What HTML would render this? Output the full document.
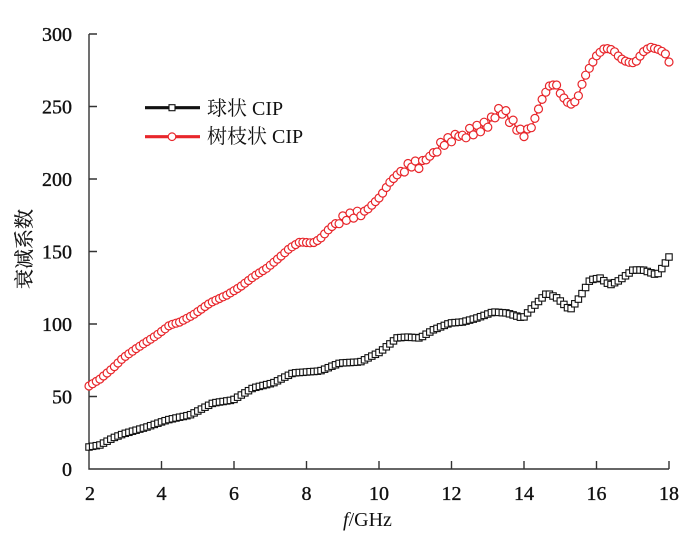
<!DOCTYPE html>
<html>
<head>
<meta charset="utf-8">
<style>
html,body{margin:0;padding:0;background:#fff;}
svg{display:block;}
text{font-family:"Liberation Serif","Noto Serif CJK SC",serif;fill:#111;}
</style>
</head>
<body>
<svg width="700" height="541" viewBox="0 0 700 541" xmlns="http://www.w3.org/2000/svg">
<defs>
<marker id="mc" markerUnits="userSpaceOnUse" markerWidth="12" markerHeight="12" refX="6" refY="6" overflow="visible">
<circle cx="6" cy="6" r="4" fill="#fff" stroke="#e8262b" stroke-width="1.2"/>
</marker>
<marker id="ms" markerUnits="userSpaceOnUse" markerWidth="12" markerHeight="12" refX="6" refY="6" overflow="visible">
<rect x="2.8" y="2.8" width="6.4" height="6.4" fill="#fff" stroke="#111" stroke-width="1.1"/>
</marker>
</defs>
<rect width="700" height="541" fill="#fff"/>

<!-- axes -->
<g stroke="#333" stroke-width="1.4" fill="none">
<path d="M89 34 V469 H669"/>
<path d="M89 34 H97 M89 106.5 H97 M89 179 H97 M89 251.5 H97 M89 324 H97 M89 396.5 H97"/>
<path d="M161.5 469 V461 M234 469 V461 M306.5 469 V461 M379 469 V461 M451.5 469 V461 M524 469 V461 M596.5 469 V461 M669 469 V461"/>
</g>

<!-- y tick labels -->
<g font-size="20" text-anchor="end" stroke="#111" stroke-width="0.35">
<text x="72" y="41">300</text>
<text x="72" y="113.5">250</text>
<text x="72" y="186">200</text>
<text x="72" y="258.5">150</text>
<text x="72" y="331">100</text>
<text x="72" y="403.5">50</text>
<text x="72" y="476">0</text>
</g>
<!-- x tick labels -->
<g font-size="20" text-anchor="middle" stroke="#111" stroke-width="0.35">
<text x="90" y="500">2</text>
<text x="161.5" y="500">4</text>
<text x="234" y="500">6</text>
<text x="306.5" y="500">8</text>
<text x="379" y="500">10</text>
<text x="451.5" y="500">12</text>
<text x="524" y="500">14</text>
<text x="596.5" y="500">16</text>
<text x="669" y="500">18</text>
</g>

<text x="343" y="526" font-size="20"><tspan font-style="italic">f</tspan>/GHz</text>
<text transform="translate(31,249) rotate(-90)" font-size="20" text-anchor="middle" stroke="#111" stroke-width="0.2">衰减系数</text>

<!-- black series -->
<polyline fill="none" stroke="#111" stroke-width="1.2" marker-start="url(#ms)" marker-mid="url(#ms)" marker-end="url(#ms)" points="89,447 92.6,446.3 96.3,445.7 99.9,445 103.5,443.1 107.1,441.2 110.8,439.2 114.4,437.4 118,436 121.6,434.6 125.3,433.3 128.9,432.3 132.5,431.2 136.1,430.2 139.8,429.1 143.4,428.1 147,427 150.6,425.7 154.3,424.4 157.9,423.2 161.5,421.9 165.1,420.7 168.8,419.6 172.4,418.8 176,418 179.6,417.2 183.3,416.5 186.9,415.7 190.5,414.7 194.1,412.9 197.8,411 201.4,409.1 205,407.2 208.6,405.3 212.3,403.4 215.9,402.6 219.5,402 223.1,401.5 226.8,400.9 230.4,400.4 234,399.4 237.6,397.2 241.3,395 244.9,392.9 248.5,390.7 252.1,388.5 255.8,387.3 259.4,386.4 263,385.5 266.6,384.6 270.3,383.7 273.9,382.6 277.5,380.8 281.1,379 284.8,377.1 288.4,375.3 292,373.5 295.6,372.8 299.3,372.5 302.9,372.3 306.5,372 310.1,371.7 313.8,371.5 317.4,371.2 321,370.6 324.6,369.2 328.3,367.7 331.9,366.2 335.5,364.8 339.1,363.4 342.8,362.9 346.4,362.7 350,362.5 353.6,362.3 357.3,362.1 360.9,361.6 364.5,359.8 368.1,357.9 371.8,356.1 375.4,354.3 379,352.5 382.6,349.9 386.3,346.8 389.9,343.9 393.5,340.9 397.1,337.9 400.8,337.6 404.4,337.3 408,337.1 411.6,337.4 415.3,337.6 418.9,337.9 422.5,336.5 426.1,334.2 429.8,332 433.4,329.8 437,328.4 440.6,326.9 444.3,325.4 447.9,323.9 451.5,322.9 455.1,322.6 458.8,322.3 462.4,322 466,321.1 469.6,320.1 473.3,319.1 476.9,318 480.5,316.7 484.1,315.4 487.8,314 491.4,312.6 495,312.1 498.6,312.4 502.3,312.7 505.9,312.9 509.5,313.8 513.1,314.9 516.8,316.1 520.4,317.2 524,316.9 527.6,312.9 531.3,308.9 534.9,305.1 538.5,301.5 542.1,297.9 545.8,294.2 549.4,294.2 553,296 556.6,297.8 560.3,301 563.9,304.4 567.5,307.7 571.1,308.6 574.8,303.8 578.4,299.1 582,293.6 585.6,287.5 589.3,281.2 592.9,279.4 596.5,278.7 600.1,278.1 603.8,280.7 607.4,283.2 611,284.5 614.6,282.7 618.3,280.9 621.9,278.5 625.5,275.8 629.1,273 632.8,270.2 636.4,270 640,270 643.6,270.2 647.3,271.5 650.9,272.8 654.5,274.1 658.1,273.5 661.8,268.6 665.4,263 669,257"/>

<!-- red series -->
<polyline fill="none" stroke="#e8262b" stroke-width="1.5" marker-start="url(#mc)" marker-mid="url(#mc)" marker-end="url(#mc)" points="89,386 92.6,383.7 96.3,381.4 99.9,379.1 103.5,376 107.1,373 110.8,369.9 114.4,366.6 118,363 121.6,359.4 125.3,356.4 128.9,353.8 132.5,351.2 136.1,348.6 139.8,346.2 143.4,343.8 147,341.5 150.6,339.2 154.3,336.8 157.9,334.3 161.5,331.5 165.1,328.8 168.8,325.9 172.4,324.3 176,323.2 179.6,322.1 183.3,320.2 186.9,318.3 190.5,316.4 194.1,314.2 197.8,311.6 201.4,309.1 205,306.5 208.6,304 212.3,301.9 215.9,300.2 219.5,298.5 223.1,296.8 226.8,295.1 230.4,292.9 234,290.7 237.6,288.5 241.3,286 244.9,283.2 248.5,280.5 252.1,277.7 255.8,275.2 259.4,272.9 263,270.6 266.6,268.3 270.3,265.2 273.9,262.2 277.5,259.1 281.1,256 284.8,252.7 288.4,249.4 292,246.8 295.6,244.6 299.3,242.4 302.9,242.2 306.5,242.5 310.1,242.8 313.8,242.5 317.4,240.5 321,237.9 324.6,233.9 328.3,229.9 331.9,226.5 335.5,223.6 339.1,223.7 342.8,215.9 346.4,220.4 350,213 353.6,218.1 357.3,211.2 360.9,215.7 364.5,211.1 368.1,208.9 371.8,205.2 375.4,201.6 379,198 382.6,193.1 386.3,187.5 389.9,182.2 393.5,178.5 397.1,174.9 400.8,171.4 404.4,172 408,163.5 411.6,167 415.3,161 418.9,168.5 422.5,160.5 426.1,159.9 429.8,156.2 433.4,152.6 437,152 440.6,142.4 444.3,145.4 447.9,137.6 451.5,141.8 455.1,134.4 458.8,136.4 462.4,135.2 466,137.8 469.6,128.4 473.3,134.9 476.9,125.3 480.5,131.8 484.1,122.2 487.8,127.2 491.4,117 495,117.9 498.6,108.5 502.3,114.2 505.9,110.6 509.5,122.5 513.1,120.1 516.8,130.2 520.4,129.1 524,136.6 527.6,129 531.3,127.7 534.9,118.4 538.5,109 542.1,99.4 545.8,92.2 549.4,86 553,85 556.6,85 560.3,93.4 563.9,98 567.5,102.3 571.1,104.1 574.8,101.9 578.4,95.8 582,84.3 585.6,75.2 589.3,68.3 592.9,62 596.5,55.9 600.1,52.3 603.8,49 607.4,48.6 611,49.5 614.6,51.8 618.3,56 621.9,59.1 625.5,61.1 629.1,62.3 632.8,62.7 636.4,61.1 640,56.1 643.6,51.6 647.3,49 650.9,47.3 654.5,48.4 658.1,49.4 661.8,51.3 665.4,53.9 669,62"/>

<!-- legend -->
<line x1="145" y1="107.7" x2="200" y2="107.7" stroke="#111" stroke-width="3.2"/>
<rect x="169" y="104.7" width="6" height="6" fill="#fff" stroke="#111" stroke-width="1.1"/>
<line x1="145" y1="136.7" x2="200" y2="136.7" stroke="#e8262b" stroke-width="3.2"/>
<circle cx="172" cy="136.7" r="3.8" fill="#fff" stroke="#e8262b" stroke-width="1.2"/>
<text x="207" y="115" font-size="20">球状 CIP</text>
<text x="207" y="143" font-size="20">树枝状 CIP</text>
</svg>
</body>
</html>
